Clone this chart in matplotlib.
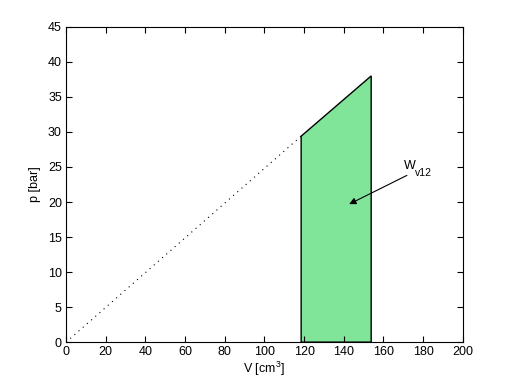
import matplotlib
matplotlib.use("Agg")
import matplotlib.pyplot as plt
import numpy as np

plt.rcParams['font.family'] = ['Liberation Sans', 'DejaVu Sans']
plt.rcParams['mathtext.fontset'] = 'custom'
plt.rcParams['mathtext.rm'] = 'Liberation Sans'
plt.rcParams['mathtext.it'] = 'Liberation Sans'

# data
V_line = [0, 118.5]
p_line = [0, 29.4]
V_fill = [118.5, 118.5, 153.8, 153.8]
p_fill = [0, 29.4, 38.0, 0]
label_main = 'W'
label_sub = 'v12'
arrow_head = (142.7, 19.7)
arrow_tail = (171.8, 23.8)

fig = plt.figure(figsize=(5.12, 3.84), dpi=100)
ax = fig.add_axes([0.129, 0.109, 0.775, 0.821])

ax.plot(V_line, p_line, color='black', linestyle=(0, (1, 4)), linewidth=0.8)
ax.fill(V_fill, p_fill, facecolor='#80e599', edgecolor='black', linewidth=1.0)

ax.annotate('', xy=arrow_head, xytext=arrow_tail,
            arrowprops=dict(arrowstyle='-|>', color='black', lw=0.8,
                            mutation_scale=10, shrinkA=0, shrinkB=0))
ax.text(170.3, 24.3, label_main, fontsize=9, ha='left', va='bottom')
ax.text(176.0, 23.4, label_sub, fontsize=7.5, ha='left', va='bottom')

ax.set_xlim(0, 200)
ax.set_ylim(0, 45)
ax.set_xticks(np.arange(0, 201, 20))
ax.set_yticks(np.arange(0, 46, 5))
ax.tick_params(direction='in', top=True, right=True, labelsize=9, length=4, width=0.8, pad=3)
for s in ax.spines.values():
    s.set_linewidth(0.8)
ax.set_xlabel('V [cm$^3$]', fontsize=9, labelpad=1)
ax.set_ylabel('p [bar]', fontsize=9, labelpad=5)

fig.savefig('out.png', dpi=100)
